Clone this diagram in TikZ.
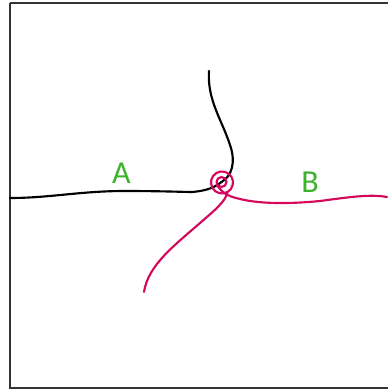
\documentclass[tikz,border=0pt]{standalone}
\usepackage{fontspec}
\setmainfont{Carlito}
\definecolor{labgreen}{RGB}{60,178,45}
\definecolor{mag}{RGB}{214,8,92}
\tikzset{
  blackline/.style={line width=1.6pt, black, line cap=round},
  magline/.style={line width=1.6pt, mag, line cap=round},
  lab/.style={text=labgreen, font=\fontsize{24}{28}\selectfont, inner sep=0pt}
}
\begin{document}
\begin{tikzpicture}[x=0.75pt,y=-0.75pt]
\useasboundingbox (0,0) rectangle (387,392);
\fill[white] (0,0) rectangle (387,392);
\draw[line width=1pt, black!80] (10,3) -- (10,388) -- (392,388);
\draw[line width=1pt, black!80] (10,3) -- (392,3);
% black curves
\coordinate (c) at (221.5,182);
\draw[blackline] (10,198) .. controls (50,198) and (80,191) .. (125,191)
  .. controls (160,191) and (185,192) .. (192,192)
  .. controls (205,191) and (214,188) .. (c);
\draw[blackline] (209,71) .. controls (207,100) and (222,120) .. (230,145)
  .. controls (236,162) and (232,176) .. (c);
% magenta spiral and branches
\draw[magline] (144,292) .. controls (148,265) and (175,245) .. (200,223)
  .. controls (215,210) and (226,201) .. (227.5,192)
  arc[start angle=60, end angle=420, radius=11]
  (216.5,182) arc[start angle=180, end angle=-180, radius=5];
\draw[magline] (216.8,185) .. controls (222,192) and (226,196) .. (240,199)
  .. controls (260,204) and (290,204) .. (320,201)
  .. controls (350,197) and (370,194) .. (387,197);
\node[lab] (A) at (121.5,173) {A};
\node[lab] (B) at (310,182.5) {B};
\end{tikzpicture}
\end{document}
